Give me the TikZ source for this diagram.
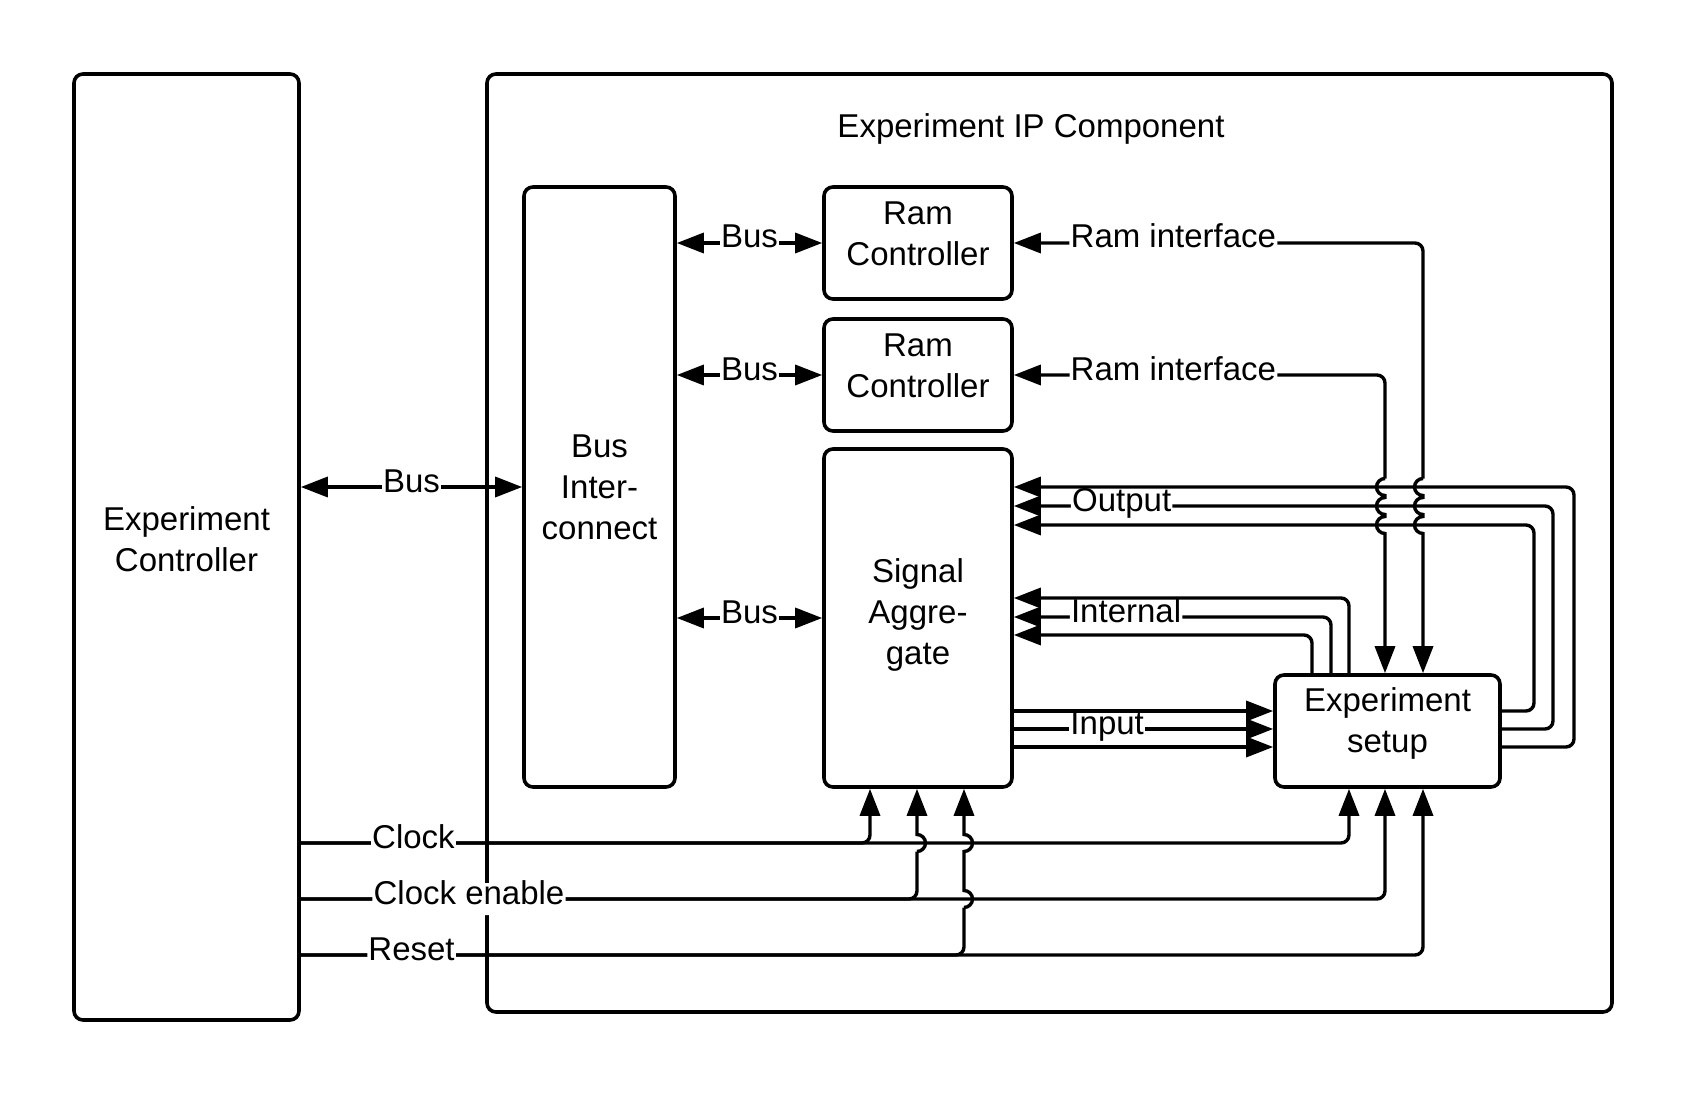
\documentclass[tikz,border=0pt]{standalone}
\usepackage{fontspec}
\setmainfont{Liberation Sans}
\usetikzlibrary{arrows.meta,calc}
\newcommand\dfont{\fontsize{16.5}{20.5}\selectfont}
\begin{document}
\begin{tikzpicture}[x=0.5pt,y=-0.5pt,
  >={Triangle[length=13.5pt,width=10pt]},
  box/.style={draw,line width=1.8pt,rounded corners=4.5pt,inner sep=0pt},
  ln/.style={line width=1.7pt},
  lbl/.style={fill=white,inner xsep=0.6pt,inner ysep=3pt,font=\dfont,text height=0.75em,text depth=0.25em},
  txt/.style={font=\dfont,align=center},
  hopl/.style={insert path={arc[start angle=90,end angle=270,radius=4.25pt]}},
  hopr/.style={insert path={arc[start angle=-90,end angle=90,radius=4.25pt]}},
]
\useasboundingbox (0,0) rectangle (1688,1097);

% boxes
\node[box,minimum width=562.5pt,minimum height=469pt] (ip) at (1049.5,543) {};
\node[txt] (iptitle) at (1031,129) {Experiment IP Component};
\node[box,minimum width=112.5pt,minimum height=473pt] (ec) at (186.5,547) {};
\node[txt,yshift=3.75pt] (ectext) at (ec) {Experiment\\Controller};
\node[box,minimum width=75.5pt,minimum height=300pt] (bi) at (599.5,487) {};
\node[txt] (bitext) at (bi) {Bus\\Inter-\\connect};
\node[box,minimum width=94pt,minimum height=56pt] (rc1) at (918,243) {};
\node[txt,yshift=4.5pt] (rc1text) at (rc1) {Ram\\Controller};
\node[box,minimum width=94pt,minimum height=56pt] (rc2) at (918,375) {};
\node[txt,yshift=4.5pt] (rc2text) at (rc2) {Ram\\Controller};
\node[box,minimum width=94pt,minimum height=169pt] (sa) at (918,618) {};
\node[txt,yshift=1.5pt] (satext) at (sa) {Signal\\Aggre-\\gate};
\node[box,minimum width=112.5pt,minimum height=56pt] (es) at (1387.5,731) {};
\node[txt,yshift=3.75pt] (estext) at (es) {Experiment\\setup};

% reference coordinates
\coordinate (xc1) at (870,0);
\coordinate (xc2) at (917,0);
\coordinate (xc3) at (964,0);
\coordinate (xe1) at (1349,0);
\coordinate (xe2) at (1385,0);
\coordinate (xe3) at (1423,0);
\coordinate (xi1) at (1349,0);
\coordinate (xi2) at (1331,0);
\coordinate (xi3) at (1312,0);
\coordinate (xo1) at (1574,0);
\coordinate (xo2) at (1553,0);
\coordinate (xo3) at (1534,0);
\coordinate (yclk) at (0,843);
\coordinate (yce) at (0,899);
\coordinate (yrst) at (0,955);
\coordinate (yo1) at (0,487);
\coordinate (yo2) at (0,506);
\coordinate (yo3) at (0,525);
\coordinate (yi1) at (0,598);
\coordinate (yi2) at (0,617);
\coordinate (yi3) at (0,635);
\coordinate (yn1) at (0,711);
\coordinate (yn2) at (0,729);
\coordinate (yn3) at (0,747);

% buses
\draw[ln,<->] (ec.east |- bi.west) -- node[lbl]{Bus} (bi.west);
\draw[ln,<->] (bi.east |- rc1.west) -- node[lbl]{Bus} (rc1.west);
\draw[ln,<->] (bi.east |- rc2.west) -- node[lbl]{Bus} (rc2.west);
\draw[ln,<->] (bi.east |- sa.west) -- node[lbl]{Bus} (sa.west);

% outputs
\draw[ln,->,rounded corners=4pt] (es.east |- yn3) -- (xo1 |- yn3) -- (xo1 |- yo1) -- (sa.east |- yo1);
\draw[ln,->,rounded corners=4pt] (es.east |- yn2) -- (xo2 |- yn2) -- (xo2 |- yo2) -- node[lbl,inner ysep=1pt,pos=0.8]{Output} (sa.east |- yo2);
\draw[ln,->,rounded corners=4pt] (es.east |- yn1) -- (xo3 |- yn1) -- (xo3 |- yo3) -- (sa.east |- yo3);

% ram interfaces
\draw[ln,<-,rounded corners=4pt] (rc1.east) -- node[lbl,pos=0.39]{Ram interface} (xe3 |- rc1.east) -- ($(xe3 |- yo1)+(0,-8.5)$);
\draw[ln,->] ($(xe3 |- yo1)+(0,-8.5)$) [hopl] -- ($(xe3 |- yo2)+(0,-8.5)$) [hopl] -- ($(xe3 |- yo3)+(0,-8.5)$) [hopl] -- (xe3 |- es.north);
\draw[ln,<-,rounded corners=4pt] (rc2.east) -- node[lbl,pos=0.43]{Ram interface} (xe2 |- rc2.east) -- ($(xe2 |- yo1)+(0,-8.5)$);
\draw[ln,->] ($(xe2 |- yo1)+(0,-8.5)$) [hopl] -- ($(xe2 |- yo2)+(0,-8.5)$) [hopl] -- ($(xe2 |- yo3)+(0,-8.5)$) [hopl] -- (xe2 |- es.north);

% internal
\draw[ln,->,rounded corners=4pt] (xi1 |- es.north) -- (xi1 |- yi1) -- (sa.east |- yi1);
\draw[ln,->,rounded corners=4pt] (xi2 |- es.north) -- (xi2 |- yi2) -- node[lbl,inner ysep=1pt,pos=0.646]{Internal} (sa.east |- yi2);
\draw[ln,->,rounded corners=4pt] (xi3 |- es.north) -- (xi3 |- yi3) -- (sa.east |- yi3);

% input
\draw[ln,->] (sa.east |- yn1) -- (es.west |- yn1);
\draw[ln,->] (sa.east |- yn2) -- node[lbl,inner ysep=1pt,pos=0.36]{Input} (es.west |- yn2);
\draw[ln,->] (sa.east |- yn3) -- (es.west |- yn3);

% control lines to experiment setup
\draw[ln,->,rounded corners=4pt] (ec.east |- yclk) -- (xe1 |- yclk) -- (xe1 |- es.south);
\draw[ln,->,rounded corners=4pt] (ec.east |- yce) -- (xe2 |- yce) -- (xe2 |- es.south);
\draw[ln,->,rounded corners=4pt] (ec.east |- yrst) -- (xe3 |- yrst) -- (xe3 |- es.south);

% control lines to signal aggregate
\draw[ln,->,rounded corners=4pt] (ec.east |- yclk) -- node[lbl,pos=0.198]{Clock} (xc1 |- yclk) -- (xc1 |- sa.south);
\draw[ln,rounded corners=4pt] (ec.east |- yce) -- node[lbl,pos=0.273]{Clock enable} (xc2 |- yce) -- ($(xc2 |- yclk)+(0,8.5)$);
\draw[ln,->] ($(xc2 |- yclk)+(0,8.5)$) [hopr] -- (xc2 |- sa.south);
\draw[ln,rounded corners=4pt] (ec.east |- yrst) -- node[lbl,pos=0.167]{Reset} (xc3 |- yrst) -- ($(xc3 |- yce)+(0,8.5)$);
\draw[ln,->] ($(xc3 |- yce)+(0,8.5)$) [hopr] -- ($(xc3 |- yclk)+(0,8.5)$) [hopr] -- (xc3 |- sa.south);
\end{tikzpicture}
\end{document}
